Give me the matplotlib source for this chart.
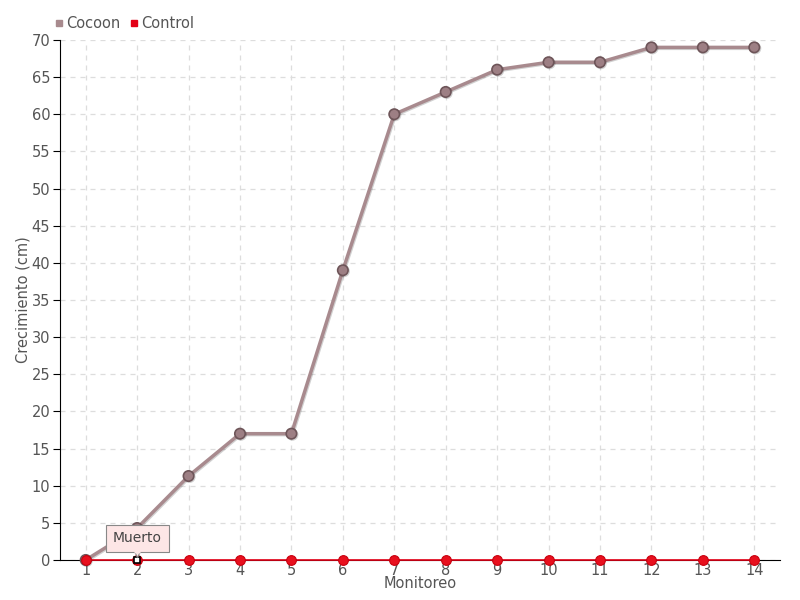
import matplotlib.pyplot as plt
import matplotlib.patheffects as pe
import matplotlib.transforms as mtransforms
from matplotlib.lines import Line2D

AXIS_COLOR = '#555555'

monitoreo = list(range(1, 15))
cocoon = [0, 4.3, 11.3, 17, 17, 39, 60, 63, 66, 67, 67, 69, 69, 69]
control = [0] * 14
tooltip_idx = 1
tooltip_text = 'Muerto'


def main():
    plt.rcParams['font.family'] = ['DejaVu Sans']
    fig = plt.figure(figsize=(8, 6), dpi=100)
    ax = fig.add_axes([0.075, 0.0667, 0.9, 0.8667])

    shadow = [pe.SimpleLineShadow(offset=(0.7, -0.7), alpha=0.18),
              pe.Normal()]
    ax.plot(monitoreo, cocoon, '-o', color='#a88a8e', lw=2.5,
            ms=7.5, mfc='#9d7f84', mec='#6e5559', mew=1.2,
            path_effects=shadow, zorder=3, clip_on=False)
    ax.plot(monitoreo, control, '-o', color='#e30016', lw=1.2,
            ms=7, mfc='#e8101e', mec='#c8000e', mew=0.8, zorder=4,
            clip_on=False)
    # highlighted point
    ax.plot(monitoreo[tooltip_idx], control[tooltip_idx], 's', ms=5,
            mfc='white', mec='black', mew=1.2, zorder=6, clip_on=False)

    # tooltip box + little pointer
    tx, ty = monitoreo[tooltip_idx], control[tooltip_idx]
    ax.annotate(tooltip_text, xy=(tx, ty),
                xytext=(0, 15.5), textcoords='offset points',
                ha='center', va='center', fontsize=10, color='#444444',
                bbox=dict(boxstyle='square,pad=0.5', fc='#fde6e6',
                          ec='#888888', lw=0.8),
                zorder=7)
    ptr = ax.transData + mtransforms.ScaledTranslation(
        0, 5.2 / 72, fig.dpi_scale_trans)
    ax.plot(tx, ty, marker='v', ms=6, mfc='#fde6e6', mec='#888888',
            mew=0.8, transform=ptr, zorder=6.5, clip_on=False)
    ptr2 = ax.transData + mtransforms.ScaledTranslation(
        0, 7.2 / 72, fig.dpi_scale_trans)
    ax.plot(tx, ty, marker='s', ms=4, mfc='#fde6e6', mec='none',
            transform=ptr2, zorder=8, clip_on=False)

    ax.set_xlim(0.5, 14.5)
    ax.set_ylim(0, 70)
    ax.set_xticks(monitoreo)
    ax.set_yticks(range(0, 71, 5))
    ax.grid(True, ls=(0, (4, 4)), color='#dddddd', lw=0.9)
    ax.set_axisbelow(True)
    for side in ['top', 'right']:
        ax.spines[side].set_visible(False)
    ax.spines['left'].set_color('black')
    ax.spines['bottom'].set_color('black')
    ax.tick_params(axis='y', length=5, color='black', labelcolor=AXIS_COLOR,
                   labelsize=10.5, pad=2)
    ax.tick_params(axis='x', length=0, labelcolor=AXIS_COLOR,
                   labelsize=10.5, pad=2)
    ax.set_xlabel('Monitoreo', color=AXIS_COLOR, fontsize=10.5, labelpad=-1)
    ax.set_ylabel('Crecimiento (cm)', color=AXIS_COLOR, fontsize=10.5,
                  labelpad=1)

    handles = [Line2D([], [], ls='', marker='s', ms=5, color='#a88a8e'),
               Line2D([], [], ls='', marker='s', ms=5, color='#e30016')]
    fig.legend(handles, ['Cocoon', 'Control'], loc='upper left',
               bbox_to_anchor=(0.05, 0.995), ncol=2, frameon=False,
               handletextpad=0.1, columnspacing=0.5, handlelength=0.8,
               fontsize=10.5, labelcolor=AXIS_COLOR)

    fig.savefig('out.png', dpi=100)


if __name__ == '__main__':
    main()
